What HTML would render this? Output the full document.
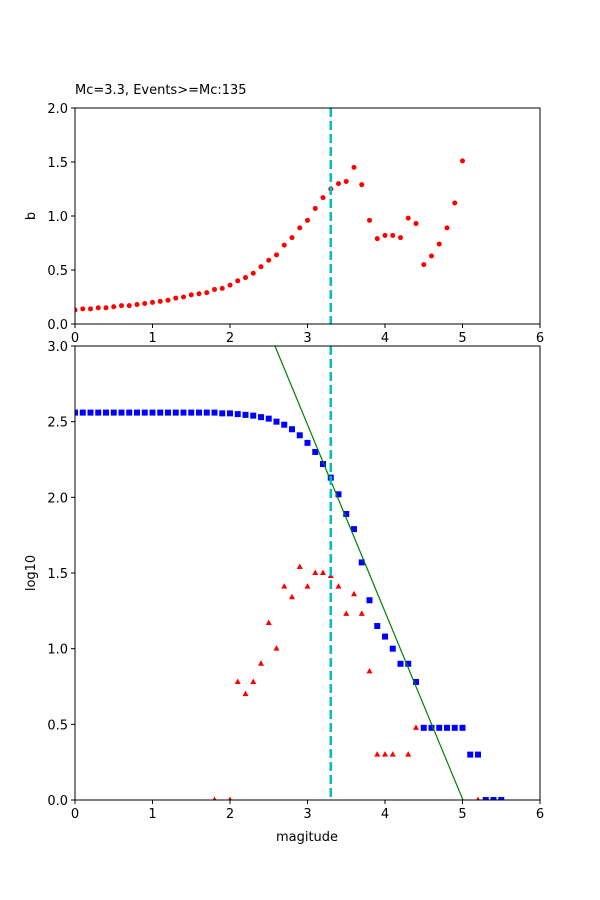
<!DOCTYPE html>
<html><head><meta charset="utf-8"><style>body{margin:0;background:#fff}svg{display:block}text{font-family:"DejaVu Sans","Liberation Sans",sans-serif;font-size:13px;fill:#000}</style></head>
<body>
<svg id="s" width="600" height="900" xmlns="http://www.w3.org/2000/svg"></svg>
<script>
const s=document.getElementById('s');let h='';
const X=v=>75+v*77.5;
const Yt=v=>324-v*108;
const Yb=v=>800-v*151.33;
h+='<text x="75" y="94">Mc=3.3, Events&gt;=Mc:135</text>';
// top axes
const b=[0.13,0.14,0.14,0.15,0.15,0.16,0.17,0.17,0.18,0.19,0.2,0.21,0.22,0.24,0.25,0.27,0.28,0.29,0.32,0.33,0.36,0.40,0.43,0.47,0.53,0.59,0.64,0.73,0.80,0.89,0.96,1.07,1.17,1.25,1.30,1.32,1.45,1.29,0.96,0.79,0.82,0.82,0.80,0.98,0.93,0.55,0.63,0.74,0.89,1.12,1.51];
h+='<svg x="75" y="108" width="465" height="216" overflow="hidden"><g transform="translate(-75,-108)">';
b.forEach((v,i)=>h+=`<circle cx="${X(i/10)}" cy="${Yt(v)}" r="2.5" fill="red"/>`);
h+=`<line x1="${X(3.3)}" y1="108" x2="${X(3.3)}" y2="324" stroke="#00bfbf" stroke-width="2.5" stroke-dasharray="9,4"/>`;
h+='</g></svg>';
h+='<rect x="75" y="108" width="465" height="216" fill="none" stroke="#000" stroke-width="1"/>';
for(let i=0;i<=6;i++){h+=`<line x1="${X(i)}" y1="324" x2="${X(i)}" y2="328" stroke="#000"/><text x="${X(i)}" y="342" text-anchor="middle">${i}</text>`;}
['0.0','0.5','1.0','1.5','2.0'].forEach((t,i)=>{const y=Yt(i*0.5);h+=`<line x1="71" y1="${y}" x2="75" y2="${y}" stroke="#000"/><text x="68" y="${y+5}" text-anchor="end">${t}</text>`;});
h+='<text transform="translate(35,216) rotate(-90)" text-anchor="middle">b</text>';
// bottom axes
const c={};for(let i=0;i<=18;i++)c[i]=2.56;
Object.assign(c,{19:2.555,20:2.555,21:2.55,22:2.545,23:2.54,24:2.53,25:2.52,26:2.50,27:2.48,28:2.45,29:2.41,30:2.36,31:2.30,32:2.22,33:2.13,34:2.02,35:1.89,36:1.79,37:1.57,38:1.32,39:1.15,40:1.08,41:1.00,42:0.90,43:0.90,44:0.78,45:0.477,46:0.477,47:0.477,48:0.477,49:0.477,50:0.477,51:0.30,52:0.30,53:0,54:0,55:0});
const t={18:0,20:0,21:0.78,22:0.70,23:0.78,24:0.90,25:1.17,26:1.0,27:1.41,28:1.34,29:1.54,30:1.41,31:1.50,32:1.50,33:1.48,34:1.41,35:1.23,36:1.36,37:1.23,38:0.85,39:0.30,40:0.30,41:0.30,43:0.30,44:0.477,52:0};
h+='<svg x="75" y="346" width="465" height="454" overflow="hidden"><g transform="translate(-75,-346)">';
for(const k in c){h+=`<rect x="${X(k/10)-3}" y="${Yb(c[k])-3}" width="6" height="6" fill="blue"/>`;}
for(const k in t){const x=X(k/10),y=Yb(t[k]);h+=`<polygon points="${x},${y-3.5} ${x-3},${y+2} ${x+3},${y+2}" fill="red"/>`;}
h+=`<line x1="${X(2.58)}" y1="${Yb(3)}" x2="${X(5.006)}" y2="${Yb(0)}" stroke="green" stroke-width="1.2"/>`;
h+=`<line x1="${X(3.3)}" y1="346" x2="${X(3.3)}" y2="800" stroke="#00bfbf" stroke-width="2.5" stroke-dasharray="9,4"/>`;
h+='</g></svg>';
h+='<rect x="75" y="346" width="465" height="454" fill="none" stroke="#000" stroke-width="1"/>';
for(let i=0;i<=6;i++){h+=`<line x1="${X(i)}" y1="800" x2="${X(i)}" y2="804" stroke="#000"/><text x="${X(i)}" y="818" text-anchor="middle">${i}</text>`;}
['0.0','0.5','1.0','1.5','2.0','2.5','3.0'].forEach((tt,i)=>{const y=Yb(i*0.5);h+=`<line x1="71" y1="${y}" x2="75" y2="${y}" stroke="#000"/><text x="68" y="${y+5}" text-anchor="end">${tt}</text>`;});
h+='<text x="307" y="841" text-anchor="middle">magitude</text>';
h+='<text transform="translate(35,573) rotate(-90)" text-anchor="middle">log10</text>';
s.innerHTML=h;
</script>
</body></html>
